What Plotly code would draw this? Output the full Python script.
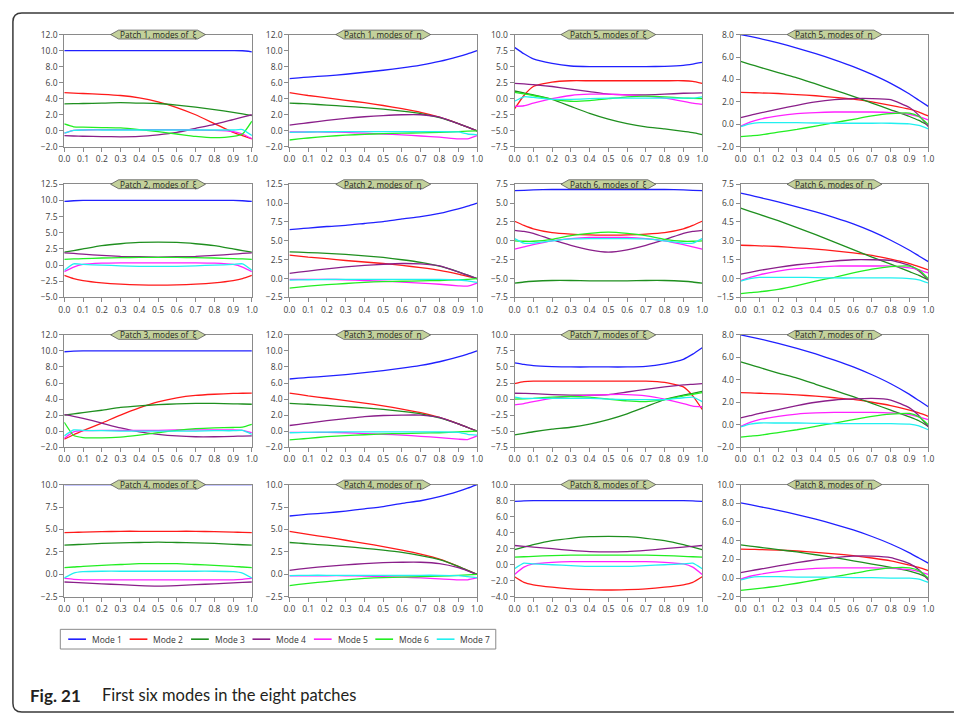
import plotly.graph_objects as go
from plotly.subplots import make_subplots

W, H = 956, 720

X = [0.0, 0.05, 0.1, 0.2, 0.3, 0.4, 0.5, 0.6, 0.7, 0.8, 0.9, 0.95, 1.0]
X_TICKS = [0.0, 0.1, 0.2, 0.3, 0.4, 0.5, 0.6, 0.7, 0.8, 0.9, 1.0]
MODE_NAMES = ["Mode 1", "Mode 2", "Mode 3", "Mode 4", "Mode 5", "Mode 6", "Mode 7"]
MODE_COLORS = ["#2020ff", "#ff1a1a", "#1f8f1f", "#8a1f8a", "#ff22ff", "#22ee22", "#22f0f0"]

# each panel: Mode 1..7 values at X
P1_XI = [
    [10.0, 10.0, 10.0, 10.0, 10.0, 10.0, 10.0, 10.0, 10.0, 10.0, 10.0, 9.98, 9.85],
    [4.75, 4.7, 4.65, 4.55, 4.4, 4.1, 3.6, 2.9, 2.0, 0.9, -0.2, -0.6, -1.0],
    [3.35, 3.38, 3.4, 3.45, 3.5, 3.45, 3.4, 3.2, 2.95, 2.65, 2.3, 2.1, 1.9],
    [-0.6, -0.65, -0.68, -0.72, -0.75, -0.7, -0.5, -0.2, 0.3, 0.8, 1.4, 1.7, 2.0],
    [-0.3, 0.05, 0.1, 0.15, 0.15, 0.15, 0.15, 0.15, 0.1, 0.05, -0.1, -0.4, -1.0],
    [0.85, 0.5, 0.45, 0.4, 0.35, 0.15, -0.1, -0.4, -0.7, -0.85, -0.7, -0.4, 1.2],
    [-0.3, 0.05, 0.1, 0.1, 0.1, 0.1, 0.1, 0.1, 0.1, 0.1, 0.1, 0.15, -0.6],
]
P1_ETA = [
    [6.5, 6.6, 6.7, 6.85, 7.05, 7.3, 7.55, 7.85, 8.2, 8.65, 9.25, 9.6, 10.0],
    [4.75, 4.58, 4.4, 4.1, 3.8, 3.5, 3.15, 2.75, 2.3, 1.7, 0.9, 0.45, 0.0],
    [3.45, 3.4, 3.35, 3.2, 3.05, 2.9, 2.7, 2.45, 2.15, 1.65, 0.9, 0.45, 0.0],
    [0.7, 0.85, 1.0, 1.3, 1.55, 1.75, 1.9, 2.0, 2.0, 1.7, 0.9, 0.45, 0.0],
    [-0.15, -0.15, -0.15, -0.15, -0.2, -0.3, -0.4, -0.5, -0.65, -0.8, -1.0, -1.0, -0.6],
    [-1.15, -1.02, -0.9, -0.7, -0.55, -0.45, -0.35, -0.3, -0.25, -0.2, -0.1, -0.05, 0.0],
    [-0.2, -0.18, -0.15, -0.12, -0.1, -0.1, -0.1, -0.1, -0.1, -0.1, -0.15, -0.4, -0.5],
]
P2_XI = [
    [9.85, 9.95, 10.0, 10.0, 10.0, 10.0, 10.0, 10.0, 10.0, 10.0, 10.0, 9.95, 9.85],
    [-1.6, -2.1, -2.4, -2.75, -2.95, -3.05, -3.1, -3.05, -2.95, -2.75, -2.4, -2.1, -1.6],
    [2.0, 2.25, 2.5, 3.0, 3.3, 3.5, 3.55, 3.5, 3.3, 3.0, 2.5, 2.25, 2.0],
    [1.9, 1.8, 1.7, 1.5, 1.35, 1.3, 1.25, 1.3, 1.35, 1.5, 1.7, 1.8, 1.9],
    [-1.0, -0.3, 0.1, 0.3, 0.35, 0.35, 0.35, 0.35, 0.35, 0.3, 0.1, -0.3, -1.0],
    [0.9, 0.95, 1.0, 1.1, 1.15, 1.2, 1.2, 1.2, 1.15, 1.1, 1.0, 0.95, 0.9],
    [-0.8, 0.2, 0.1, 0.0, -0.1, -0.2, -0.2, -0.2, -0.1, 0.0, 0.1, 0.2, -0.8],
]
P2_ETA = [
    [6.5, 6.6, 6.7, 6.9, 7.05, 7.3, 7.55, 7.9, 8.2, 8.65, 9.25, 9.6, 10.0],
    [3.1, 2.98, 2.85, 2.65, 2.4, 2.2, 2.0, 1.75, 1.45, 1.1, 0.6, 0.3, 0.0],
    [3.55, 3.5, 3.45, 3.35, 3.2, 3.0, 2.8, 2.5, 2.15, 1.65, 0.9, 0.45, 0.0],
    [0.7, 0.85, 1.0, 1.3, 1.55, 1.75, 1.9, 2.0, 1.95, 1.7, 0.9, 0.45, 0.0],
    [-0.1, -0.1, -0.1, -0.1, -0.15, -0.25, -0.35, -0.45, -0.6, -0.75, -0.95, -1.0, -0.6],
    [-1.25, -1.12, -1.0, -0.8, -0.65, -0.5, -0.4, -0.35, -0.3, -0.25, -0.15, -0.1, 0.0],
    [-0.2, -0.18, -0.15, -0.12, -0.1, -0.1, -0.1, -0.1, -0.1, -0.1, -0.15, -0.3, -0.5],
]
P3_XI = [
    [9.9, 9.97, 10.0, 10.0, 10.0, 10.0, 10.0, 10.0, 10.0, 10.0, 10.0, 10.0, 10.0],
    [-1.0, -0.45, 0.05, 1.0, 2.0, 2.9, 3.65, 4.15, 4.45, 4.6, 4.7, 4.72, 4.75],
    [2.0, 2.15, 2.3, 2.6, 2.95, 3.15, 3.3, 3.4, 3.45, 3.45, 3.4, 3.38, 3.35],
    [2.05, 1.85, 1.6, 1.0, 0.4, -0.1, -0.4, -0.6, -0.7, -0.7, -0.65, -0.62, -0.6],
    [-0.9, -0.1, 0.05, 0.1, 0.1, 0.1, 0.1, 0.15, 0.15, 0.15, 0.15, 0.1, -0.2],
    [1.1, -0.55, -0.8, -0.85, -0.75, -0.5, -0.2, 0.1, 0.3, 0.4, 0.45, 0.5, 0.85],
    [-0.6, 0.15, 0.1, 0.05, 0.0, 0.0, 0.0, 0.0, 0.0, 0.05, 0.05, 0.1, -0.4],
]
P3_ETA = [
    [6.5, 6.6, 6.7, 6.85, 7.05, 7.3, 7.55, 7.85, 8.2, 8.65, 9.25, 9.6, 10.0],
    [4.75, 4.58, 4.4, 4.1, 3.8, 3.5, 3.15, 2.75, 2.3, 1.7, 0.9, 0.45, 0.0],
    [3.45, 3.4, 3.35, 3.2, 3.05, 2.9, 2.7, 2.45, 2.15, 1.65, 0.9, 0.45, 0.0],
    [0.7, 0.85, 1.0, 1.3, 1.55, 1.8, 1.95, 2.0, 2.0, 1.7, 0.9, 0.45, 0.0],
    [-0.15, -0.15, -0.15, -0.15, -0.2, -0.3, -0.4, -0.5, -0.65, -0.8, -1.0, -1.05, -0.6],
    [-1.1, -1.0, -0.9, -0.7, -0.55, -0.45, -0.35, -0.3, -0.25, -0.2, -0.1, -0.05, 0.0],
    [-0.2, -0.18, -0.15, -0.12, -0.1, -0.1, -0.1, -0.1, -0.1, -0.1, -0.15, -0.4, -0.5],
]
P4_XI = [
    [10.0, 10.0, 10.0, 10.0, 10.0, 10.0, 10.0, 10.0, 10.0, 10.0, 10.0, 10.0, 10.0],
    [4.65, 4.68, 4.7, 4.75, 4.8, 4.8, 4.8, 4.8, 4.8, 4.75, 4.7, 4.68, 4.65],
    [3.25, 3.3, 3.35, 3.45, 3.5, 3.55, 3.6, 3.55, 3.5, 3.45, 3.35, 3.3, 3.25],
    [-0.85, -0.9, -0.95, -1.05, -1.15, -1.25, -1.3, -1.25, -1.15, -1.05, -0.95, -0.9, -0.85],
    [-0.45, -0.55, -0.6, -0.6, -0.6, -0.6, -0.6, -0.6, -0.6, -0.6, -0.6, -0.55, -0.45],
    [0.75, 0.82, 0.9, 1.0, 1.1, 1.2, 1.2, 1.2, 1.1, 1.0, 0.9, 0.82, 0.75],
    [-0.4, 0.15, 0.3, 0.35, 0.35, 0.35, 0.35, 0.35, 0.35, 0.35, 0.3, 0.15, -0.4],
]
P4_ETA = [
    [6.5, 6.6, 6.7, 6.85, 7.05, 7.3, 7.55, 7.9, 8.2, 8.65, 9.25, 9.6, 10.0],
    [4.8, 4.62, 4.45, 4.15, 3.8, 3.45, 3.1, 2.7, 2.25, 1.7, 0.9, 0.45, 0.0],
    [3.55, 3.48, 3.4, 3.25, 3.1, 2.9, 2.7, 2.45, 2.1, 1.65, 0.9, 0.45, 0.0],
    [0.45, 0.58, 0.7, 0.9, 1.05, 1.2, 1.3, 1.35, 1.35, 1.2, 0.75, 0.4, 0.0],
    [-0.15, -0.15, -0.15, -0.15, -0.15, -0.2, -0.25, -0.3, -0.4, -0.5, -0.6, -0.6, -0.4],
    [-1.25, -1.12, -1.0, -0.8, -0.6, -0.45, -0.35, -0.3, -0.25, -0.2, -0.1, -0.05, 0.0],
    [-0.15, -0.12, -0.1, -0.1, -0.1, -0.1, -0.1, -0.1, -0.1, -0.1, -0.15, -0.25, -0.35],
]
P5_XI = [
    [8.0, 7.0, 6.2, 5.5, 5.1, 5.0, 5.0, 5.0, 5.0, 5.05, 5.2, 5.4, 5.65],
    [-1.6, 0.5, 1.9, 2.6, 2.8, 2.8, 2.8, 2.8, 2.8, 2.8, 2.8, 2.7, 2.4],
    [1.2, 0.9, 0.6, -0.1, -1.2, -2.3, -3.2, -3.9, -4.4, -4.7, -5.1, -5.3, -5.6],
    [2.4, 2.3, 2.2, 1.9, 1.5, 1.1, 0.7, 0.6, 0.6, 0.7, 0.85, 0.88, 0.9],
    [-1.2, -1.1, -0.7, 0.0, 0.5, 0.7, 0.7, 0.6, 0.4, 0.1, -0.4, -0.7, -0.9],
    [1.0, 0.75, 0.5, -0.1, -0.4, -0.3, 0.0, 0.3, 0.4, 0.3, 0.1, 0.05, 0.0],
    [-0.4, 0.3, 0.2, -0.1, -0.1, 0.0, 0.1, 0.1, 0.1, 0.1, 0.1, 0.1, 0.3],
]
P5_ETA = [
    [8.0, 7.83, 7.65, 7.25, 6.8, 6.3, 5.75, 5.15, 4.45, 3.65, 2.7, 2.15, 1.6],
    [2.85, 2.83, 2.8, 2.75, 2.65, 2.55, 2.4, 2.25, 2.0, 1.7, 1.35, 1.1, 0.75],
    [5.6, 5.35, 5.1, 4.6, 4.15, 3.6, 3.05, 2.5, 1.9, 1.3, 0.7, 0.35, -0.1],
    [0.6, 0.8, 1.0, 1.35, 1.7, 2.0, 2.2, 2.3, 2.3, 2.2, 1.5, 0.8, -0.2],
    [-0.15, 0.2, 0.45, 0.75, 0.95, 1.05, 1.1, 1.1, 1.1, 1.05, 0.9, 0.7, 0.4],
    [-1.1, -1.02, -0.95, -0.7, -0.45, -0.15, 0.15, 0.45, 0.75, 0.95, 1.0, 0.7, 0.0],
    [-0.2, 0.05, 0.15, 0.15, 0.15, 0.12, 0.1, 0.1, 0.1, 0.1, 0.05, -0.1, -0.4],
]
P6_XI = [
    [6.65, 6.7, 6.75, 6.8, 6.8, 6.8, 6.8, 6.8, 6.8, 6.8, 6.75, 6.7, 6.65],
    [2.6, 2.05, 1.6, 1.1, 0.9, 0.8, 0.75, 0.8, 0.9, 1.1, 1.6, 2.05, 2.6],
    [-5.6, -5.45, -5.35, -5.25, -5.25, -5.3, -5.3, -5.3, -5.25, -5.25, -5.35, -5.45, -5.6],
    [1.4, 1.25, 1.0, 0.15, -0.6, -1.2, -1.5, -1.2, -0.6, 0.15, 1.0, 1.25, 1.4],
    [-1.1, -0.8, -0.5, 0.0, 0.3, 0.45, 0.45, 0.45, 0.3, 0.0, -0.5, -0.8, -1.1],
    [0.0, -0.05, -0.05, 0.2, 0.7, 1.0, 1.15, 1.0, 0.7, 0.2, -0.05, -0.05, 0.0],
    [0.3, -0.3, -0.3, 0.0, 0.25, 0.3, 0.3, 0.3, 0.25, 0.0, -0.3, -0.3, 0.3],
]
P6_ETA = [
    [6.8, 6.63, 6.45, 6.1, 5.7, 5.3, 4.85, 4.35, 3.75, 3.05, 2.25, 1.8, 1.35],
    [2.65, 2.63, 2.6, 2.55, 2.45, 2.35, 2.2, 2.05, 1.85, 1.55, 1.2, 0.95, 0.7],
    [5.6, 5.35, 5.1, 4.6, 4.05, 3.5, 2.9, 2.3, 1.7, 1.15, 0.55, 0.25, -0.1],
    [0.35, 0.5, 0.65, 0.9, 1.1, 1.25, 1.4, 1.5, 1.5, 1.45, 1.05, 0.6, -0.1],
    [-0.15, 0.1, 0.3, 0.6, 0.8, 0.9, 1.0, 1.0, 1.0, 1.0, 0.85, 0.7, 0.45],
    [-1.2, -1.12, -1.05, -0.85, -0.55, -0.2, 0.1, 0.45, 0.75, 0.95, 1.0, 0.7, 0.0],
    [-0.2, 0.0, 0.1, 0.1, 0.1, 0.08, 0.05, 0.05, 0.05, 0.05, 0.0, -0.1, -0.35],
]
P7_XI = [
    [5.65, 5.4, 5.2, 5.05, 5.0, 5.0, 5.0, 5.0, 5.1, 5.5, 6.2, 7.0, 8.0],
    [2.4, 2.7, 2.8, 2.8, 2.8, 2.8, 2.8, 2.8, 2.8, 2.6, 1.9, 0.5, -1.6],
    [-5.6, -5.35, -5.1, -4.7, -4.4, -3.9, -3.2, -2.3, -1.2, -0.1, 0.6, 0.9, 1.2],
    [0.9, 0.88, 0.85, 0.7, 0.6, 0.6, 0.7, 1.1, 1.5, 1.9, 2.2, 2.3, 2.4],
    [-0.9, -0.7, -0.4, 0.1, 0.4, 0.6, 0.7, 0.7, 0.5, 0.0, -0.7, -1.1, -1.2],
    [0.0, 0.05, 0.1, 0.3, 0.4, 0.3, 0.0, -0.3, -0.4, -0.1, 0.5, 0.75, 1.0],
    [0.3, 0.1, 0.1, 0.1, 0.1, 0.1, 0.0, -0.1, -0.1, -0.1, 0.2, 0.3, -0.4],
]
P7_ETA = [
    [8.0, 7.83, 7.65, 7.25, 6.8, 6.3, 5.75, 5.15, 4.45, 3.65, 2.7, 2.15, 1.6],
    [2.85, 2.83, 2.8, 2.75, 2.65, 2.55, 2.4, 2.25, 2.0, 1.7, 1.3, 1.05, 0.75],
    [5.6, 5.35, 5.1, 4.6, 4.15, 3.6, 3.05, 2.5, 1.9, 1.3, 0.7, 0.35, -0.15],
    [0.6, 0.8, 1.0, 1.35, 1.7, 2.0, 2.2, 2.3, 2.35, 2.2, 1.5, 0.8, -0.2],
    [-0.15, 0.2, 0.45, 0.75, 0.95, 1.05, 1.1, 1.1, 1.1, 1.05, 0.9, 0.7, 0.45],
    [-1.1, -1.02, -0.95, -0.7, -0.45, -0.15, 0.15, 0.45, 0.75, 0.95, 1.0, 0.7, 0.0],
    [-0.2, 0.05, 0.15, 0.15, 0.15, 0.12, 0.1, 0.1, 0.1, 0.1, 0.05, -0.1, -0.45],
]
P8_XI = [
    [7.9, 7.97, 8.0, 8.0, 8.0, 8.0, 8.0, 8.0, 8.0, 8.0, 8.0, 7.97, 7.9],
    [-1.5, -2.2, -2.5, -2.8, -3.0, -3.1, -3.15, -3.1, -3.0, -2.8, -2.5, -2.2, -1.5],
    [1.9, 2.2, 2.5, 3.0, 3.3, 3.5, 3.55, 3.5, 3.3, 3.0, 2.5, 2.2, 1.9],
    [2.4, 2.3, 2.2, 2.0, 1.8, 1.65, 1.6, 1.65, 1.8, 2.0, 2.2, 2.3, 2.4],
    [-1.2, -0.3, 0.1, 0.3, 0.4, 0.4, 0.4, 0.4, 0.4, 0.3, 0.1, -0.3, -1.2],
    [0.95, 1.0, 1.05, 1.15, 1.2, 1.2, 1.2, 1.2, 1.2, 1.15, 1.05, 1.0, 0.95],
    [-0.5, 0.2, 0.1, 0.0, -0.1, -0.2, -0.2, -0.2, -0.1, 0.0, 0.1, 0.2, -0.5],
]
P8_ETA = [
    [8.05, 7.85, 7.65, 7.25, 6.8, 6.3, 5.75, 5.15, 4.45, 3.65, 2.7, 2.15, 1.6],
    [3.1, 3.08, 3.05, 3.0, 2.9, 2.75, 2.6, 2.4, 2.15, 1.85, 1.4, 1.15, 0.8],
    [3.55, 3.42, 3.3, 3.05, 2.8, 2.5, 2.2, 1.85, 1.5, 1.15, 0.75, 0.45, 0.0],
    [0.6, 0.78, 0.95, 1.3, 1.65, 1.95, 2.2, 2.35, 2.35, 2.2, 1.55, 0.9, -0.2],
    [-0.1, 0.2, 0.4, 0.7, 0.9, 1.05, 1.1, 1.1, 1.1, 1.05, 0.9, 0.7, 0.4],
    [-1.3, -1.2, -1.1, -0.85, -0.55, -0.2, 0.15, 0.5, 0.85, 1.1, 1.1, 0.8, 0.0],
    [-0.2, 0.05, 0.15, 0.15, 0.1, 0.1, 0.1, 0.05, 0.05, 0.0, 0.0, -0.1, -0.45],
]

# grid order (row-major): panel data, patch number, variable, y axis (min, max, step)
PANELS = [
    (P1_XI, 1, "ξ", (-2, 12, 2)), (P1_ETA, 1, "η", (-2, 12, 2)),
    (P5_XI, 5, "ξ", (-7.5, 10, 2.5)), (P5_ETA, 5, "η", (-2, 8, 2)),
    (P2_XI, 2, "ξ", (-5, 12.5, 2.5)), (P2_ETA, 2, "η", (-2.5, 12.5, 2.5)),
    (P6_XI, 6, "ξ", (-7.5, 7.5, 2.5)), (P6_ETA, 6, "η", (-1.5, 7.5, 1.5)),
    (P3_XI, 3, "ξ", (-2, 12, 2)), (P3_ETA, 3, "η", (-2, 12, 2)),
    (P7_XI, 7, "ξ", (-7.5, 10, 2.5)), (P7_ETA, 7, "η", (-2, 8, 2)),
    (P4_XI, 4, "ξ", (-2.5, 10, 2.5)), (P4_ETA, 4, "η", (-2.5, 10, 2.5)),
    (P8_XI, 8, "ξ", (-4, 10, 2)), (P8_ETA, 8, "η", (-2, 10, 2)),
]

COL_PX = [(59, 249), (287, 477), (515, 705), (744, 934)]
ROW_PX = [(29, 143), (181, 296), (334, 448), (486, 600)]

def px(x):
    return x / W

def py(y):
    return 1 - y / H

fig = make_subplots(rows=4, cols=4)
AX_COL = "#8a8a8a"
TICK_FONT = dict(family="Open Sans", size=8.5, color="#404040")

shapes = []
annotations = []
extra_axes = {}

for k, (data, patch, var, (ymin, ymax, step)) in enumerate(PANELS):
    r, c = k // 4, k % 4
    for m in range(7):
        fig.add_trace(go.Scatter(
            x=X, y=data[m], mode="lines", name=MODE_NAMES[m], showlegend=False,
            line=dict(color=MODE_COLORS[m], width=1.3, shape="spline", smoothing=0.5),
            hoverinfo="skip"), row=r + 1, col=c + 1)
    n = k + 1
    xa = "xaxis" if n == 1 else f"xaxis{n}"
    ya = "yaxis" if n == 1 else f"yaxis{n}"
    xid = "x" if n == 1 else f"x{n}"
    yid = "y" if n == 1 else f"y{n}"
    x0, x1 = COL_PX[c]
    y0, y1 = ROW_PX[r]
    nsteps = int(round((ymax - ymin) / step))
    yt = [round(ymin + i * step, 3) for i in range(nsteps + 1)]
    xdom = [px(x0), px(x1)]
    ydom = [py(y1), py(y0)]
    fig.layout[xa].update(
        domain=xdom, range=[0, 1], tickvals=X_TICKS, tickformat=".1f",
        showline=True, linecolor=AX_COL, linewidth=1, mirror=True,
        ticks="outside", ticklen=4, tickcolor=AX_COL, showgrid=False, zeroline=False,
        tickfont=TICK_FONT)
    fig.layout[ya].update(
        domain=ydom, range=[ymin, ymax], tickvals=yt, tickformat=".1f",
        showline=True, linecolor=AX_COL, linewidth=1, mirror=True,
        ticks="outside", ticklen=4, tickcolor=AX_COL, showgrid=False, zeroline=False,
        tickfont=TICK_FONT)
    # overlay axes giving the inner half of the crossing tick marks
    m_id = n + 16
    extra_axes[f"xaxis{m_id}"] = dict(
        overlaying=xid, anchor=yid, domain=xdom, range=[0, 1], tickvals=X_TICKS,
        ticks="inside", ticklen=4, tickcolor=AX_COL, showticklabels=False,
        showline=False, showgrid=False, zeroline=False, side="bottom")
    extra_axes[f"yaxis{m_id}"] = dict(
        overlaying=yid, anchor=xid, domain=ydom, range=[ymin, ymax], tickvals=yt,
        ticks="inside", ticklen=4, tickcolor=AX_COL, showticklabels=False,
        showline=False, showgrid=False, zeroline=False, side="left")
    # tag-shaped title
    cx = (x0 + x1) / 2
    hw, pt, hh = 48, 8, 4.5
    pts = [(cx - hw, y0), (cx - hw + pt, y0 - hh), (cx + hw - pt, y0 - hh),
           (cx + hw, y0), (cx + hw - pt, y0 + hh), (cx - hw + pt, y0 + hh)]
    path = "M " + " L ".join(f"{px(a):.5f},{py(b):.5f}" for a, b in pts) + " Z"
    shapes.append(dict(type="path", xref="paper", yref="paper", path=path,
                       fillcolor="#c3d19b", line=dict(color="#555555", width=0.8),
                       layer="above"))
    annotations.append(dict(x=px(cx), y=py(y0), xref="paper", yref="paper",
                            text=f"Patch {patch}, modes of  {var}", showarrow=False,
                            font=dict(family="Open Sans", size=8.2, color="#222222"),
                            xanchor="center", yanchor="middle"))

fig.update_layout(**extra_axes)

# outer rounded frame
fx0, fy0, fy1, rad = 7, 7, 717, 9
frame = (f"M {px(960)},{py(fy0)} L {px(fx0 + rad)},{py(fy0)} "
         f"Q {px(fx0)},{py(fy0)} {px(fx0)},{py(fy0 + rad)} "
         f"L {px(fx0)},{py(fy1 - rad)} Q {px(fx0)},{py(fy1)} {px(fx0 + rad)},{py(fy1)} "
         f"L {px(960)},{py(fy1)}")
shapes.append(dict(type="path", xref="paper", yref="paper", path=frame,
                   line=dict(color="#3a3a3a", width=1.5)))

# legend box (drawn manually)
lx0, lx1, ly0, ly1 = 55, 496, 633, 653
shapes.append(dict(type="rect", xref="paper", yref="paper",
                   x0=px(lx0), x1=px(lx1), y0=py(ly1), y1=py(ly0),
                   line=dict(color="#8a8a8a", width=1), fillcolor="white"))
lyc = (ly0 + ly1) / 2
for m in range(7):
    sx = 63 + m * 62.2
    shapes.append(dict(type="line", xref="paper", yref="paper",
                       x0=px(sx), x1=px(sx + 18), y0=py(lyc), y1=py(lyc),
                       line=dict(color=MODE_COLORS[m], width=1.6)))
    annotations.append(dict(x=px(sx + 22), y=py(lyc), xref="paper", yref="paper",
                            text=MODE_NAMES[m], showarrow=False, xanchor="left",
                            yanchor="middle",
                            font=dict(family="Open Sans", size=8.5, color="#333333")))

# caption
annotations.append(dict(x=px(22), y=py(700), xref="paper", yref="paper",
                        text="<b>Fig. 21</b>", showarrow=False, xanchor="left",
                        yanchor="middle",
                        font=dict(family="Lato", size=17, color="#231f20")))
annotations.append(dict(x=px(95), y=py(700), xref="paper", yref="paper",
                        text="First six modes in the eight patches", showarrow=False,
                        xanchor="left", yanchor="middle",
                        font=dict(family="Lato", size=16.5, color="#231f20")))

fig.update_layout(
    width=W, height=H, margin=dict(l=0, r=0, t=0, b=0),
    paper_bgcolor="white", plot_bgcolor="white", showlegend=False,
    shapes=shapes, annotations=annotations,
)

fig.write_html(
    "out.html",
    config={"displayModeBar": False},
    post_script="document.body.style.margin='0';document.body.style.overflow='hidden';",
)
